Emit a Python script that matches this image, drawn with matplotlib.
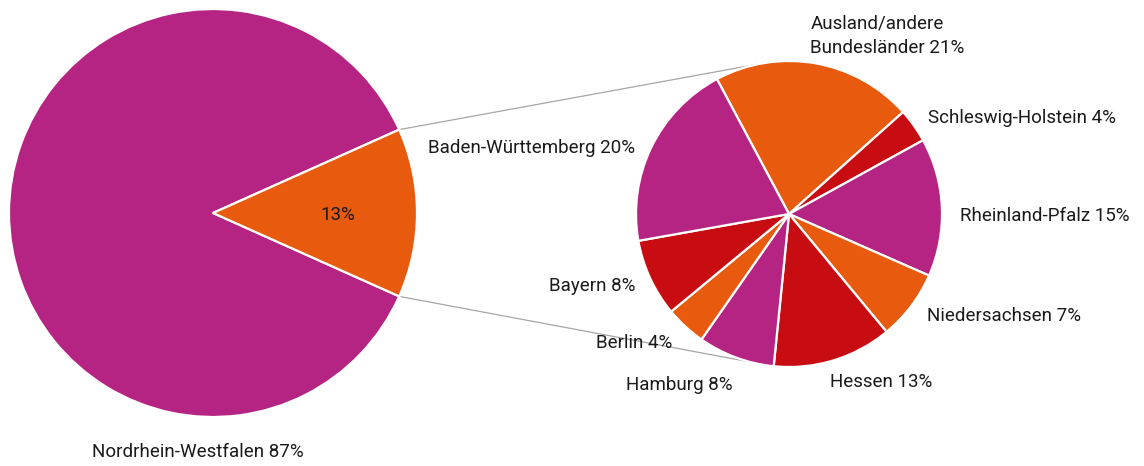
import matplotlib
matplotlib.use("Agg")
import matplotlib.pyplot as plt
import numpy as np

# ---- data ----
main_labels = ["Nordrhein-Westfalen", ""]
main_values = [86.6, 13.4]

sub_labels = ["Ausland/andere\nBundesländer", "Schleswig-Holstein", "Rheinland-Pfalz",
              "Niedersachsen", "Hessen", "Hamburg", "Berlin", "Bayern", "Baden-Württemberg"]
sub_values = [21.2, 3.6, 14.6, 7.4, 12.6, 8.1, 4.3, 8.2, 20.0]

# ---- layout / style (pixel nudges for the outside labels: dx right, dy down) ----
label_nudge = [(-7, 3), (7, 7), (9, 9), (9, -5), (-6, 4), (0, 10), (-7, 1), (-7, 4), (-8, 5)]
MAGENTA, ORANGE, RED = "#B52483", "#E85B0E", "#C70C12"
main_colors = [MAGENTA, ORANGE]
sub_colors = [ORANGE, RED, MAGENTA] * 3
FONT = "Roboto"
FS = 13.5
TXT = "#1a1a1a"

W, H = 1144, 466
fig = plt.figure(figsize=(W / 100, H / 100), dpi=100)
ax = fig.add_axes([0, 0, 1, 1])

# left (main) pie
c1 = (213, 253)
r1 = 204
main_start = 180 * main_values[1] / 100
w1, _ = ax.pie(main_values, colors=main_colors, center=c1, radius=r1,
               startangle=main_start, counterclock=True,
               wedgeprops=dict(edgecolor="white", linewidth=1.6))

# right (sub) pie
c2 = (789, 252)
r2 = 153
w2, _ = ax.pie(sub_values, colors=sub_colors, center=c2, radius=r2,
               startangle=118.1, counterclock=False,
               wedgeprops=dict(edgecolor="white", linewidth=1.6))

ax.set_xlim(0, W)
ax.set_ylim(0, H)
ax.set_aspect("equal")
ax.axis("off")

# connector lines
half = np.deg2rad(180 * main_values[1] / 100)
conn_ang = [np.deg2rad(100.0), np.deg2rad(-96.5)]
for sgn, ang in zip([1, -1], conn_ang):
    x0 = c1[0] + r1 * np.cos(sgn * half)
    y0 = c1[1] + r1 * np.sin(sgn * half)
    x1 = c2[0] + r2 * np.cos(ang)
    y1 = c2[1] + r2 * np.sin(ang)
    ax.plot([x0, x1], [y0, y1], color="#A6A6A6", lw=0.9, zorder=0.5)

def fmt(v):
    return f"{int(round(v))}%"

# sub pie labels (outside end)
pad = 9
for wedge, lab, val, (ndx, ndy) in zip(w2, sub_labels, sub_values, label_nudge):
    mid = np.deg2rad((wedge.theta1 + wedge.theta2) / 2)
    c, s = np.cos(mid), np.sin(mid)
    x = c2[0] + (r2 + pad) * c + ndx
    y = c2[1] + (r2 + pad) * s - ndy
    ha = "left" if c > 0.1 else ("right" if c < -0.1 else "center")
    va = "bottom" if s > 0.5 else ("top" if s < -0.5 else "center")
    ax.text(x, y, f"{lab} {fmt(val)}", ha=ha, va=va, fontsize=FS,
            family=FONT, color=TXT, multialignment="left", linespacing=1.5)

# main pie labels
mid = np.deg2rad((w1[1].theta1 + w1[1].theta2) / 2)
ax.text(c1[0] + 0.61 * r1 * np.cos(mid), c1[1] + 0.61 * r1 * np.sin(mid) - 2,
        fmt(main_values[1]), ha="center", va="center", fontsize=FS,
        family=FONT, color=TXT)
ax.text(c1[0] - 15, c1[1] - r1 - 35, f"{main_labels[0]} {fmt(main_values[0])}",
        ha="center", va="center", fontsize=FS, family=FONT, color=TXT)

fig.savefig("out.png", dpi=100)
